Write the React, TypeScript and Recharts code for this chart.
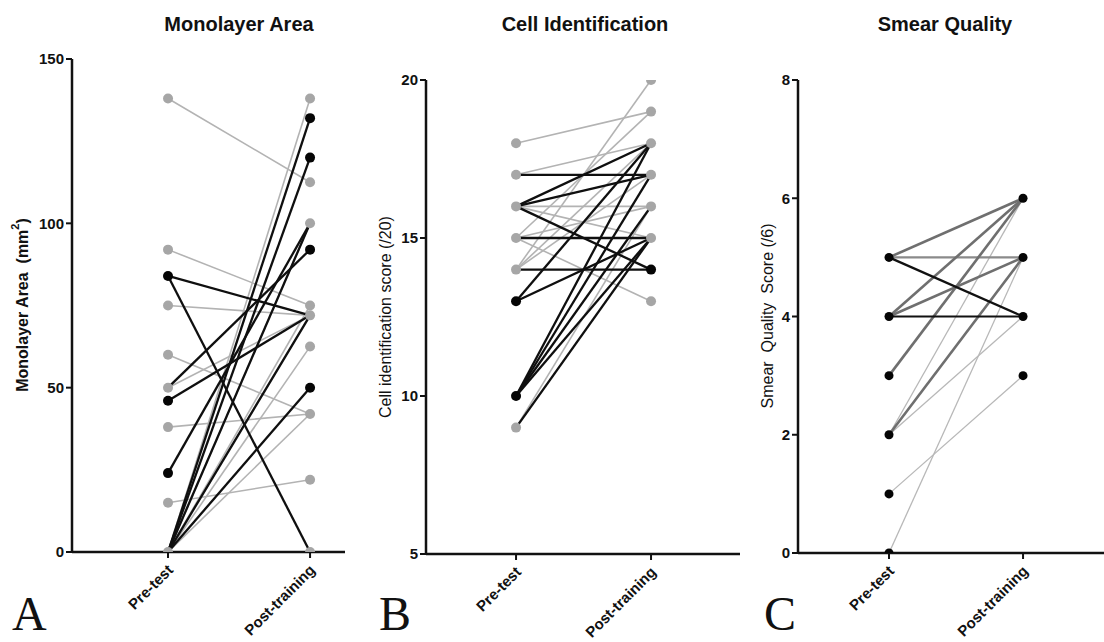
import React from 'react';
import { ComposedChart, Line, Scatter, XAxis, YAxis } from 'recharts';

const timepoints = ['Pre-test', 'Post-training'];

// Panel A – Monolayer area (mm²)
const areaPre = [138, 92, 75, 60, 50, 38, 15, 0, 0, 0, 0, 0, 0, 0, 84, 84, 50, 46, 24, 0, 0, 0, 0, 0];
const areaPost = [112.5, 75, 72, 42, 72, 42, 22, 138, 100, 75, 72, 62.5, 42, 0, 72, 0, 92, 72, 100, 132, 120, 100, 72, 50];
const areaGroup = ['g', 'g', 'g', 'g', 'g', 'g', 'g', 'g', 'g', 'g', 'g', 'g', 'g', 'g', 'k', 'k', 'k', 'k', 'k', 'k', 'k', 'k', 'k', 'k'];
const areaTicks = [0, 50, 100, 150];

// Panel B – Cell identification score (/20)
const cellPre = [18, 17, 16, 16, 15, 15, 15, 14, 14, 14, 9, 17, 16, 16, 16, 15, 14, 13, 13, 10, 10, 10, 10, 9];
const cellPost = [19, 18, 16, 15, 16, 13, 19, 20, 18, 17, 16, 17, 18, 17, 14, 15, 14, 18, 15, 18, 17, 16, 15, 15];
const cellGroup = ['g', 'g', 'g', 'g', 'g', 'g', 'g', 'g', 'g', 'g', 'g', 'k', 'k', 'k', 'k', 'k', 'k', 'k', 'k', 'k', 'k', 'k', 'k', 'k'];
const cellTicks = [5, 10, 15, 20];

// Panel C – Smear quality score (/6)
const smearPre = [2, 2, 1, 0, 2, 5, 5, 4, 4, 3, 2, 5, 4];
const smearPost = [6, 4, 3, 5, 5, 5, 6, 6, 5, 6, 5, 4, 4];
const smearGroup = ['l', 'l', 'l', 'l', 'l', 'm', 'd', 'd', 'd', 'd', 'd', 'k', 'k'];
const smearTicks = [0, 2, 4, 6, 8];

const FONT = '"Liberation Sans", Arial, Helvetica, sans-serif';
const SERIF = '"Liberation Serif", "Times New Roman", serif';
const H = 642;

type Style = { stroke: string; width: number; dot: string };
const abStyles: Record<string, Style> = {
  g: { stroke: '#b3b3b3', width: 1.6, dot: '#a6a6a6' },
  k: { stroke: '#0f0f0f', width: 2.3, dot: '#050505' },
};
const cStyles: Record<string, Style> = {
  l: { stroke: '#b8b8b8', width: 1.3, dot: '#050505' },
  m: { stroke: '#8a8a8a', width: 2.2, dot: '#050505' },
  d: { stroke: '#6f6f6f', width: 2.6, dot: '#050505' },
  k: { stroke: '#111111', width: 2.2, dot: '#050505' },
};

type PanelProps = {
  left: number;
  width: number;
  plot: { left: number; top: number; right: number; bottom: number };
  pre: number[];
  post: number[];
  group: string[];
  order: string[];
  styles: Record<string, Style>;
  yDomain: [number, number];
  yTicks: number[];
  xDomain: [number, number];
  dotR: number;
  grayWins: boolean;
};

const XTick = (props: any) => {
  const { x, y, payload } = props;
  return (
    <text
      x={x + 6}
      y={y + 11}
      transform={`rotate(-45 ${x + 6} ${y + 11})`}
      textAnchor="end"
      fontFamily={FONT}
      fontSize={15}
      fontWeight="bold"
      fill="#111"
    >
      {timepoints[payload.value]}
    </text>
  );
};

function Panel(p: PanelProps) {
  const yAxisW = 50;
  const xAxisH = 60;
  const localLeft = p.plot.left - p.left;
  const localRight = p.plot.right - p.left;
  const margin = {
    top: p.plot.top,
    bottom: H - p.plot.bottom - xAxisH,
    left: localLeft - yAxisW,
    right: p.width - localRight,
  };
  const idx = p.pre.map((_, i) => i);
  const ordered = p.order.flatMap((g) => idx.filter((i) => p.group[i] === g));

  // unique dots per timepoint; grey wins when shared (A, B)
  const dotMap = new Map<string, { x: number; y: number; fill: string; grey: boolean }>();
  idx.forEach((i) => {
    [p.pre[i], p.post[i]].forEach((v, t) => {
      const key = `${t}-${v}`;
      const st = p.styles[p.group[i]];
      const isGrey = p.group[i] === 'g';
      const prev = dotMap.get(key);
      if (!prev) dotMap.set(key, { x: t, y: v, fill: st.dot, grey: isGrey });
      else if (p.grayWins && isGrey && !prev.grey) dotMap.set(key, { x: t, y: v, fill: st.dot, grey: true });
    });
  });
  const dots = Array.from(dotMap.values());

  return (
    <div style={{ position: 'absolute', left: p.left, top: 0 }}>
      <ComposedChart width={p.width} height={H} margin={margin}>
        <XAxis
          type="number"
          dataKey="x"
          domain={p.xDomain}
          ticks={[0, 1]}
          allowDataOverflow
          height={xAxisH}
          stroke="#111"
          axisLine={{ strokeWidth: 2.5 }}
          tickLine={{ strokeWidth: 2 }}
          tickSize={6}
          tick={<XTick />}
          interval={0}
        />
        <YAxis
          type="number"
          dataKey="y"
          domain={p.yDomain}
          ticks={p.yTicks}
          allowDataOverflow
          width={yAxisW}
          stroke="#111"
          axisLine={{ strokeWidth: 2.5 }}
          tickLine={{ strokeWidth: 2 }}
          tickSize={6}
          tick={{ fill: '#111', fontSize: 15, fontWeight: 'bold', fontFamily: FONT }}
          interval={0}
        />
        {ordered.map((i) => (
          <Line
            key={`l${i}`}
            data={[
              { x: 0, y: p.pre[i] },
              { x: 1, y: p.post[i] },
            ]}
            dataKey="y"
            type="linear"
            stroke={p.styles[p.group[i]].stroke}
            strokeWidth={p.styles[p.group[i]].width}
            dot={false}
            activeDot={false}
            isAnimationActive={false}
          />
        ))}
        <Scatter
          data={dots}
          dataKey="y"
          isAnimationActive={false}
          shape={(s: any) => <circle cx={s.cx} cy={s.cy} r={p.dotR} fill={s.payload.fill} />}
        />
      </ComposedChart>
    </div>
  );
}

export default function App() {
  const textCommon = { fontFamily: FONT, fill: '#111' } as const;
  return (
    <div style={{ position: 'absolute', left: 0, top: 0, width: 1104, height: H, background: '#fff', overflow: 'hidden' }}>
      <Panel
        left={0}
        width={350}
        plot={{ left: 72, top: 59, right: 345, bottom: 552 }}
        pre={areaPre}
        post={areaPost}
        group={areaGroup}
        order={['g', 'k']}
        styles={abStyles}
        yDomain={[0, 150]}
        yTicks={areaTicks}
        xDomain={[-0.676, 1.246]}
        dotR={5}
        grayWins
      />
      <Panel
        left={350}
        width={390}
        plot={{ left: 426, top: 80, right: 740, bottom: 554 }}
        pre={cellPre}
        post={cellPost}
        group={cellGroup}
        order={['g', 'k']}
        styles={abStyles}
        yDomain={[5, 20]}
        yTicks={cellTicks}
        xDomain={[-0.667, 1.659]}
        dotR={5}
        grayWins
      />
      <Panel
        left={740}
        width={364}
        plot={{ left: 798, top: 80, right: 1104, bottom: 553 }}
        pre={smearPre}
        post={smearPost}
        group={smearGroup}
        order={['l', 'm', 'd', 'k']}
        styles={cStyles}
        yDomain={[0, 8]}
        yTicks={smearTicks}
        xDomain={[-0.679, 1.604]}
        dotR={4.5}
        grayWins={false}
      />
      <svg width={1104} height={H} style={{ position: 'absolute', left: 0, top: 0, pointerEvents: 'none' }}>
        <text x={239} y={31} textAnchor="middle" fontSize={20} fontWeight="bold" {...textCommon}>Monolayer Area</text>
        <text x={585} y={31} textAnchor="middle" fontSize={20} fontWeight="bold" {...textCommon}>Cell Identification</text>
        <text x={945} y={31} textAnchor="middle" fontSize={20} fontWeight="bold" {...textCommon}>Smear Quality</text>

        <text transform="translate(22 305) rotate(-90)" textAnchor="middle" dominantBaseline="central" fontSize={16} fontWeight="bold" style={{ whiteSpace: 'pre' }} {...textCommon}>
          {'Monolayer Area  (mm'}
          <tspan fontSize={11} dy={-7}>2</tspan>
          <tspan dy={7}>)</tspan>
        </text>
        <text transform="translate(385 317) rotate(-90)" textAnchor="middle" dominantBaseline="central" fontSize={16} style={{ whiteSpace: 'pre' }} {...textCommon}>
          Cell identification score (/20)
        </text>
        <text transform="translate(767 316) rotate(-90)" textAnchor="middle" dominantBaseline="central" fontSize={16} style={{ whiteSpace: 'pre' }} {...textCommon}>
          {'Smear  Quality  Score (/6)'}
        </text>

        <text x={12} y={630} fontSize={48} fontFamily={SERIF} fill="#111">A</text>
        <text x={379} y={630} fontSize={48} fontFamily={SERIF} fill="#111">B</text>
        <text x={764} y={630} fontSize={48} fontFamily={SERIF} fill="#111">C</text>
      </svg>
    </div>
  );
}
